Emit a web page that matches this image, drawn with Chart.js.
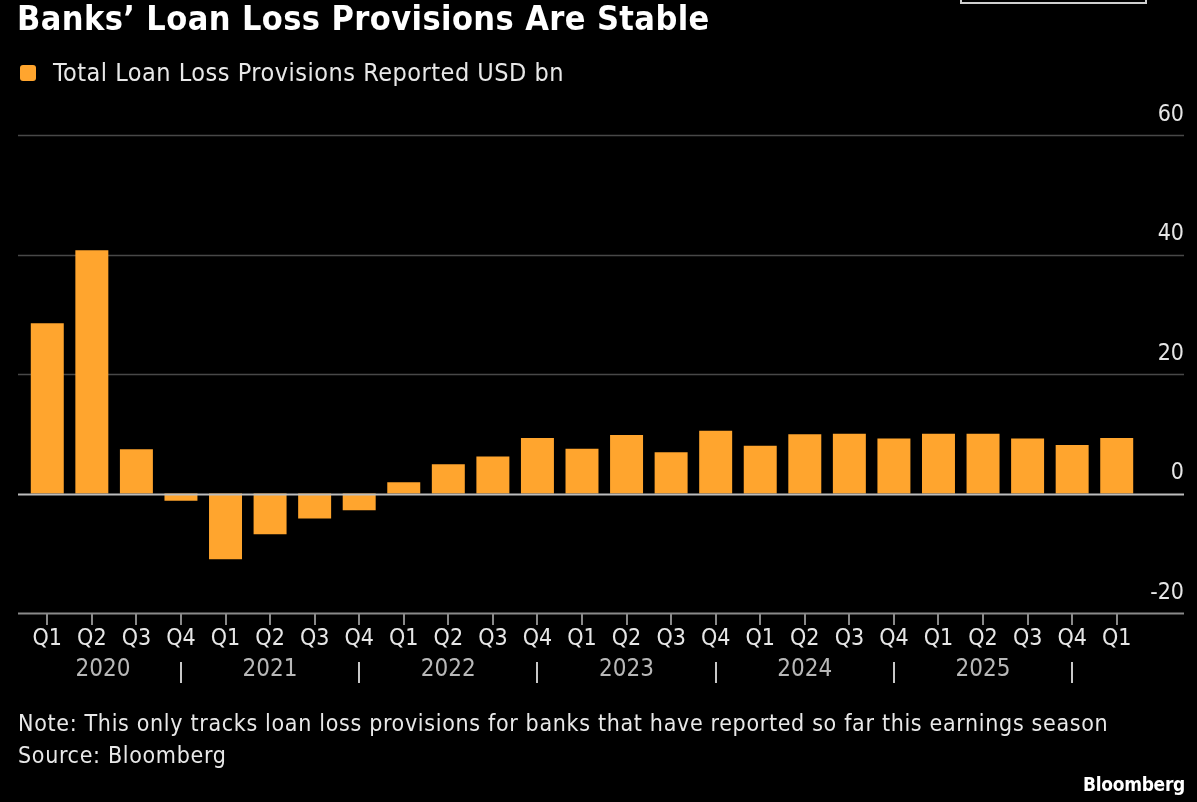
<!DOCTYPE html>
<html>
<head>
   <meta charset="utf-8">
   <script src="https://cdn.jsdelivr.net/npm/chart.js@4.4.1/dist/chart.umd.min.js"></script>
   <title>Banks' Loan Loss Provisions</title>
   <style>
      body { margin: 0; background: #000; font-family: "DejaVu Sans Condensed", "DejaVu Sans", sans-serif; }
      #wrap { position: relative; width: 1197px; height: 802px; overflow: hidden; }
      #chart-box { position: absolute; left: 0; top: 0; width: 1197px; height: 802px; }
      .txt { position: absolute; color: #e8e8e8; white-space: nowrap; line-height: 1.2; }
      #title { left: 17px; top: -2px; font-size: 34px; font-weight: bold; color: #fff; letter-spacing: 0.4px; }
      #legend { left: 20px; top: 58px; font-size: 25px; letter-spacing: 0.5px; display: flex; align-items: center; }
      #legend span { display: inline-block; width: 16px; height: 16px; background: #ffa52e; border-radius: 3px; margin-right: 17px; }
      #note { left: 18px; top: 710px; font-size: 23px; letter-spacing: 0.67px; }
      #source { left: 18px; top: 742px; font-size: 23px; letter-spacing: 0.67px; }
      #brand { right: 12px; top: 773px; font-size: 19px; font-weight: bold; color: #fff; letter-spacing: -0.3px; }
      #box { position: absolute; left: 960px; top: -10px; width: 183px; height: 10px; border: 2px solid #cfcfcf; }
   </style>
</head>
<body>
<div id="wrap">
   <div id="chart-box"><canvas id="bar-chart" width="1197" height="802"></canvas></div>
   <div id="box"></div>
   <div class="txt" id="title">Banks’ Loan Loss Provisions Are Stable</div>
   <div class="txt" id="legend"><span></span>Total Loan Loss Provisions Reported USD bn</div>
   <div class="txt" id="note">Note: This only tracks loan loss provisions for banks that have reported so far this earnings season</div>
   <div class="txt" id="source">Source: Bloomberg</div>
   <div class="txt" id="brand">Bloomberg</div>
</div>
<script>
   // quarter labels, 2020 Q1 .. 2026 Q1
   const quarters = ['Q1','Q2','Q3','Q4', 'Q1','Q2','Q3','Q4', 'Q1','Q2','Q3','Q4',
                     'Q1','Q2','Q3','Q4', 'Q1','Q2','Q3','Q4', 'Q1','Q2','Q3','Q4', 'Q1'];
   const years = ['2020', '2021', '2022', '2023', '2024', '2025'];
   // total loan loss provisions, USD bn
   const provisions = [28.5, 40.7, 7.4, -1.2, -11.0, -6.8, -4.2, -2.8,
                       1.9, 4.9, 6.2, 9.3, 7.5, 9.8, 6.9, 10.5,
                       8.0, 9.9, 10.0, 9.2, 10.0, 10.0, 9.2, 8.1, 9.3];
   const yTicks = [-20, 0, 20, 40, 60];

   const orange = '#ffa52e';
   const fontFamily = '"DejaVu Sans Condensed", "DejaVu Sans", sans-serif';

   // horizontal grid lines run past the plot on both sides
   function hLine(ctx, py, color, width) {
      ctx.beginPath();
      ctx.strokeStyle = color;
      ctx.lineWidth = width;
      ctx.moveTo(18, py);
      ctx.lineTo(1184, py);
      ctx.stroke();
   }
   const gridPlugin = {
      id: 'gridLines',
      beforeDatasetsDraw(chart) {
         const ctx = chart.ctx;
         const y = chart.scales.y;
         ctx.save();
         yTicks.forEach(v => {
            const py = Math.round(y.getPixelForValue(v)) + 0.5;
            if (v === -20) hLine(ctx, py, '#8a8a8a', 2);
            else if (v !== 0) hLine(ctx, py, '#484848', 1.5);
         });
         ctx.restore();
      },
      afterDatasetsDraw(chart) {
         // zero line sits on top of the bars
         const ctx = chart.ctx;
         ctx.save();
         hLine(ctx, Math.round(chart.scales.y.getPixelForValue(0)) + 0.5, '#bdbdbd', 2);
         ctx.restore();
      }
   };

   // year row under the quarter labels, with separators at each Q4
   const yearPlugin = {
      id: 'yearRow',
      afterDraw(chart) {
         const ctx = chart.ctx;
         const x = chart.scales.x;
         const seps = [];
         quarters.forEach((q, i) => { if (q === 'Q4') seps.push(x.getPixelForValue(i)); });
         ctx.save();
         ctx.strokeStyle = '#c8c8c8';
         ctx.lineWidth = 2;
         seps.forEach(px => {
            ctx.beginPath();
            ctx.moveTo(Math.round(px), 662);
            ctx.lineTo(Math.round(px), 683);
            ctx.stroke();
         });
         ctx.fillStyle = '#b8b8b8';
         ctx.font = '24px ' + fontFamily;
         ctx.textAlign = 'center';
         ctx.textBaseline = 'middle';
         years.forEach((yr, k) => {
            const left = k === 0 ? chart.chartArea.left : seps[k - 1];
            ctx.fillText(yr, (left + seps[k]) / 2, 670);
         });
         ctx.restore();
      }
   };

   new Chart(document.getElementById('bar-chart'), {
      type: 'bar',
      data: {
         labels: quarters,
         datasets: [{
            label: 'Total Loan Loss Provisions Reported USD bn',
            data: provisions,
            backgroundColor: orange,
            barPercentage: 0.74,
            categoryPercentage: 1.0
         }]
      },
      options: {
         responsive: false,
         animation: false,
         layout: { padding: { left: 25, right: 13, top: 135, bottom: 0 } },
         plugins: { legend: { display: false }, tooltip: { enabled: false } },
         scales: {
            x: {
               border: { display: false },
               grid: { offset: false, drawOnChartArea: false, drawTicks: true, tickLength: 12, color: '#8a8a8a', lineWidth: 2 },
               ticks: { color: '#e6e6e6', font: { family: fontFamily, size: 23 }, maxRotation: 0, autoSkip: false, padding: 0 },
               afterFit(scale) { scale.height = 802 - 613; }
            },
            y: {
               position: 'right',
               min: -20,
               max: 60,
               border: { display: false },
               grid: { display: false, drawTicks: false },
               ticks: {
                  stepSize: 20,
                  color: '#e6e6e6',
                  font: { family: fontFamily, size: 23 },
                  crossAlign: 'far',
                  labelOffset: -20,
                  padding: 8
               },
               afterFit(scale) { scale.width = 45; }
            }
         }
      },
      plugins: [gridPlugin, yearPlugin]
   });
</script>
</body>
</html>
